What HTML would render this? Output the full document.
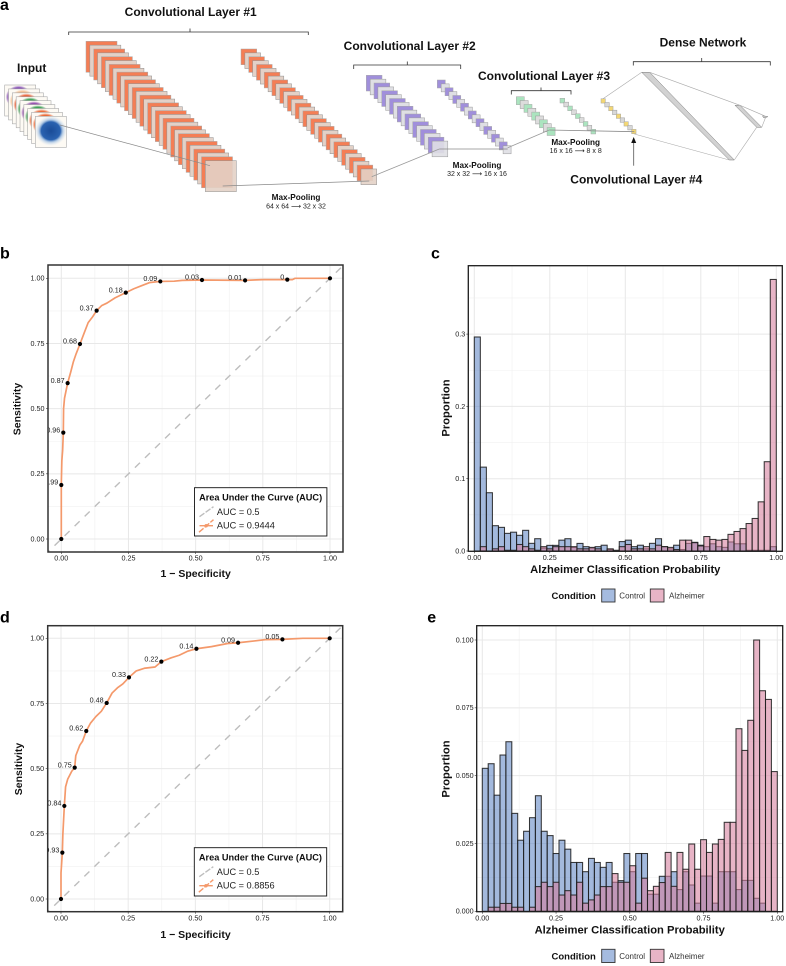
<!DOCTYPE html>
<html>
<head>
<meta charset="utf-8">
<title>CNN architecture and classification performance</title>
<style>
html,body{margin:0;padding:0;background:#fff;}
svg{display:block;font-family:"Liberation Sans",sans-serif;filter:blur(0.3px);}
.pl{font-size:16px;font-weight:bold;fill:#000;}
.h{font-size:12px;font-weight:bold;fill:#111;text-anchor:middle;}
.mp{font-size:8.2px;font-weight:bold;fill:#111;text-anchor:middle;}
.ms{font-size:7px;fill:#222;text-anchor:middle;font-family:"Liberation Sans","DejaVu Sans",sans-serif;}
.at{font-size:10.5px;font-weight:bold;fill:#111;text-anchor:middle;}
.ht{font-size:11.2px;font-weight:bold;fill:#111;text-anchor:middle;}
.lt{font-size:9.2px;font-weight:bold;fill:#111;}
.li{font-size:9.2px;fill:#222;}
.lc{font-size:9.5px;font-weight:bold;fill:#111;}
.lk{font-size:8px;fill:#333;}
.tk{font-size:7.2px;fill:#222;}
.rl{font-size:7.2px;fill:#222;text-anchor:end;}
</style>
</head>
<body>
<svg id="fig" width="786" height="966" viewBox="0 0 786 966" xmlns="http://www.w3.org/2000/svg">
<defs>
<clipPath id="clip-b"><rect x="48" y="265" width="295" height="287"/></clipPath>
<clipPath id="clip-d"><rect x="47.7" y="625.7" width="295" height="286"/></clipPath>
<clipPath id="clip-c"><rect x="468.3" y="265.7" width="314" height="285.6"/></clipPath>
<clipPath id="clip-e"><rect x="476.7" y="625.7" width="306" height="286"/></clipPath>
</defs>
<rect width="786" height="966" fill="#fff"/>

<text class="pl" x="0" y="10">a</text>
<text class="pl" x="0" y="258.3">b</text>
<text class="pl" x="431" y="258.3">c</text>
<text class="pl" x="0" y="622.5">d</text>
<text class="pl" x="427.3" y="622.3">e</text>

<g id="diagram"></g>
<g id="diagram-top" fill="none" stroke="#333">
<path d="M68.7 35V32H308.3V35M190 32V28.5" stroke-width="0.8"/>
<path d="M353.7 69V65H460.7V69M407.3 65V61.5" stroke-width="0.8"/>
<path d="M511.3 94.5V90.7H571V94.5M541 90.7V87.5" stroke-width="0.8"/>
<path d="M633.3 65.5V61.7H770.3V65.5M701.7 61.7V58" stroke-width="0.8"/>
<path d="M633.7 165.7V142" stroke="#555" stroke-width="0.8"/>
<path d="M633.7 137L636.2 143H631.2Z" fill="#111" stroke="none"/>
</g>
<text class="h" x="31.7" y="71.8">Input</text>
<text class="h" x="190.7" y="15.8">Convolutional Layer #1</text>
<text class="h" x="409.7" y="50.2">Convolutional Layer #2</text>
<text class="h" x="544" y="79.9">Convolutional Layer #3</text>
<text class="h" x="636.3" y="183.5">Convolutional Layer #4</text>
<text class="h" x="703" y="46.5">Dense Network</text>
<text class="mp" x="296" y="200.2">Max-Pooling</text>
<text class="ms" x="296" y="208.5">64 x 64 ⟶ 32 x 32</text>
<text class="mp" x="477" y="167.9">Max-Pooling</text>
<text class="ms" x="477" y="175.8">32 x 32 ⟶ 16 x 16</text>
<text class="mp" x="575.7" y="144.9">Max-Pooling</text>
<text class="ms" x="575.7" y="152.8">16 x 16 ⟶ 8 x 8</text>

<g id="charts"></g>

<text class="at" x="195.7" y="577">1 − Specificity</text>
<text class="at" transform="translate(20.5,409) rotate(-90)">Sensitivity</text>
<text class="at" x="195.5" y="938">1 − Specificity</text>
<text class="at" transform="translate(22,769) rotate(-90)">Sensitivity</text>

<text class="ht" x="625.3" y="573">Alzheimer Classification Probability</text>
<text class="ht" transform="translate(449.5,408) rotate(-90)">Proportion</text>
<text class="ht" x="629.7" y="933.6">Alzheimer Classification Probability</text>
<text class="ht" transform="translate(449.5,769) rotate(-90)">Proportion</text>

<g>
<text class="lc" x="551.5" y="599">Condition</text>
<rect x="601.7" y="589" width="13.3" height="13" fill="#a5bbdf" stroke="#333" stroke-width="0.9"/>
<text class="lk" x="619.3" y="598.5">Control</text>
<rect x="650.3" y="589" width="13.7" height="13" fill="#e8b4c6" stroke="#333" stroke-width="0.9"/>
<text class="lk" x="669" y="598.5">Alzheimer</text>
</g>
<g>
<text class="lc" x="551.5" y="959.3">Condition</text>
<rect x="601.7" y="949.3" width="13.3" height="13.2" fill="#a5bbdf" stroke="#333" stroke-width="0.9"/>
<text class="lk" x="619.3" y="958.8">Control</text>
<rect x="650.3" y="949.3" width="13.7" height="13.2" fill="#e8b4c6" stroke="#333" stroke-width="0.9"/>
<text class="lk" x="669" y="958.8">Alzheimer</text>
</g>

<script>
// ---------- ROC panel b ----------
const rocBFpr = [0,0,0.002,0.005,0.0075,0.0085,0.012,0.0236,0.035,0.045,0.055,0.0695,0.085,0.1,0.115,0.1315,0.15,0.17,0.2,0.24,0.27,0.3,0.33,0.3685,0.42,0.45,0.5236,0.684,0.75,0.841,0.86,0.87,1];
const rocBTpr = [0,0.21,0.3,0.34,0.41,0.5,0.54,0.598,0.64,0.68,0.71,0.748,0.79,0.83,0.85,0.876,0.895,0.905,0.925,0.945,0.96,0.972,0.984,0.988,0.989,0.992,0.9936,0.992,0.995,0.995,0.995,1,1];
const rocBMarkFpr = [0,0,0.0075,0.0236,0.0695,0.1315,0.24,0.3685,0.5236,0.684,0.841,1];
const rocBMarkTpr = [0,0.207,0.408,0.598,0.748,0.876,0.945,0.988,0.9936,0.992,0.995,1];
const rocBThresholds = ["","0.99","0.96","0.87","0.68","0.37","0.18","0.09","0.03","0.01","0",""];
// ---------- ROC panel d ----------
const rocDFpr = [0,0,0.005,0.007,0.0124,0.017,0.025,0.04,0.051,0.055,0.07,0.08,0.094,0.11,0.13,0.15,0.17,0.19,0.21,0.23,0.253,0.28,0.31,0.35,0.3735,0.41,0.44,0.47,0.504,0.56,0.62,0.659,0.72,0.76,0.824,0.9,1];
const rocDTpr = [0,0.1,0.178,0.25,0.357,0.43,0.46,0.49,0.504,0.55,0.59,0.605,0.6445,0.675,0.7,0.72,0.752,0.79,0.81,0.825,0.85,0.875,0.885,0.89,0.9105,0.925,0.935,0.95,0.96,0.968,0.98,0.983,0.99,0.995,0.996,1,1];
const rocDMarkFpr = [0,0.005,0.0124,0.051,0.094,0.17,0.253,0.3735,0.504,0.659,0.824,1];
const rocDMarkTpr = [0,0.178,0.357,0.504,0.6445,0.752,0.85,0.9105,0.96,0.983,0.996,1];
const rocDThresholds = ["","0.93","0.84","0.75","0.62","0.48","0.33","0.22","0.14","0.09","0.05",""];
const rocTicks = [0,0.25,0.5,0.75,1];
const rocTickLabels = ["0.00","0.25","0.50","0.75","1.00"];
const rocMinorTicks = [0.125,0.375,0.625,0.875];
// ---------- Histogram panel c ----------
const histCControl = [0.296,0.116,0.0806,0.035,0.0327,0.0244,0.026,0.0217,0.0286,0.0106,0.017,0.004,0.0078,0.0078,0.015,0.017,0.005,0.0105,0.006,0.004,0.006,0.008,0.002,0.001,0.013,0.015,0.006,0.008,0.003,0.0106,0.017,0.006,0.003,0.008,0.002,0.0105,0.012,0.008,0.006,0.01,0.006,0.005,0.0125,0.01,0.01,0.001,0.001,0.001,0.001,0.006];
const histCAlzheimer = [0,0.006,0,0.003,0.006,0.001,0.001,0.009,0.006,0.003,0.001,0.006,0.003,0.006,0.006,0.006,0.006,0.003,0.003,0.005,0.003,0,0.003,0,0.006,0.009,0.003,0.003,0.006,0.003,0.008,0.006,0.005,0.002,0.015,0.015,0.0115,0.007,0.02,0.016,0.015,0.016,0.023,0.027,0.031,0.038,0.045,0.068,0.1235,0.3756];
const histCTicksY = [0,0.1,0.2,0.3];
const histCTickLabelsY = ["0.0","0.1","0.2","0.3"];
const histCMinorY = [0.05,0.15,0.25,0.35];
// ---------- Histogram panel e ----------
const histEControl = [0.0527,0.0544,0.0428,0.0576,0.0625,0.0361,0.0262,0.0295,0.0345,0.0426,0.0295,0.0279,0.0213,0.0262,0.0229,0.018,0.018,0.0146,0.0195,0.018,0.0162,0.018,0.0107,0.0113,0.0213,0.0146,0.0213,0.0213,0.0063,0.0063,0.0129,0.0129,0.0146,0.008,0.0146,0.0097,0.003,0.013,0.013,0.003,0.0146,0.0146,0.0146,0.008,0.0114,0.0114,0.0048,0.003,0,0];
const histEAlzheimer = [0,0.0015,0.0015,0.0029,0.0029,0.0015,0.0015,0,0.0015,0.0091,0.0107,0.0091,0.0107,0.006,0.0076,0.006,0.0107,0.003,0.0042,0.006,0.0091,0.0091,0.0139,0.0107,0.0107,0.0168,0.003,0.0122,0.0076,0.0092,0.0106,0.0217,0.0092,0.0217,0.0155,0.0248,0.0155,0.0264,0.0217,0.0248,0.0265,0.0328,0.0328,0.0673,0.0593,0.0704,0.1,0.0813,0.0781,0.0515];
const histETicksY = [0,0.025,0.05,0.075,0.1];
const histETickLabelsY = ["0.000","0.025","0.050","0.075","0.100"];
const histEMinorY = [0.0125,0.0375,0.0625,0.0875];

const NS = 'http://www.w3.org/2000/svg';
function mk(parent, tag, attrs, text) {
  const n = document.createElementNS(NS, tag);
  for (const k in attrs) n.setAttribute(k, attrs[k]);
  if (text !== undefined) n.textContent = text;
  parent.appendChild(n);
  return n;
}
const charts = document.getElementById('charts');

function gridAndTicks(g, prefix, px, py, sx, sy, xT, xL, yT, yL, xM, yM, labelY, labelX) {
  xM.forEach(v => {
    const el = mk(g, 'line', {x1:sx(v), x2:sx(v), y1:py.top, y2:py.bottom, stroke:'#f0f0f0', 'stroke-width':0.6});
    
    
  });
  yM.forEach(v => {
    const el = mk(g, 'line', {x1:px.left, x2:px.right, y1:sy(v), y2:sy(v), stroke:'#f0f0f0', 'stroke-width':0.6});
    
    
  });
  xT.forEach((v, i) => {
    const el = mk(g, 'line', {x1:sx(v), x2:sx(v), y1:py.top, y2:py.bottom, stroke:'#e8e8e8', 'stroke-width':1});
    
    
    const t = mk(g, 'line', {x1:sx(v), x2:sx(v), y1:py.bottom, y2:py.bottom + 2, stroke:'#333', 'stroke-width':0.6});
    
    
    const lab = mk(g, 'text', {x:sx(v), y:labelY, 'text-anchor':'middle', class:'tk'}, xL[i]);
    
    
  });
  yT.forEach((v, i) => {
    const el = mk(g, 'line', {x1:px.left, x2:px.right, y1:sy(v), y2:sy(v), stroke:'#e8e8e8', 'stroke-width':1});
    
    
    const t = mk(g, 'line', {x1:px.left - 2, x2:px.left, y1:sy(v), y2:sy(v), stroke:'#333', 'stroke-width':0.6});
    
    
    const lab = mk(g, 'text', {x:labelX, y:sy(v) + 2.4, 'text-anchor':'end', class:'tk'}, yL[i]);
    
    
  });
}

function drawRoc(o) {
  const g = mk(charts, 'g', {});
  
  
  const sx = v => o.x0 + v * (o.x1 - o.x0);
  const sy = v => o.y0 + v * (o.y1 - o.y0);
  const px = {left:o.left, right:o.right}, py = {top:o.top, bottom:o.bottom};
  gridAndTicks(g, o.id, px, py, sx, sy, rocTicks, rocTickLabels, rocTicks, rocTickLabels, rocMinorTicks, rocMinorTicks, o.bottom + 8.6, o.left - 3.5);
  const c = mk(g, 'g', {'clip-path':'url(#' + o.clip + ')'});
  
  
  const diag = mk(c, 'line', {x1:sx(-0.1), y1:sy(-0.1), x2:sx(1.1), y2:sy(1.1), stroke:'#bdbdbd', 'stroke-width':1.4, 'stroke-dasharray':'7 7'});
  
  
  const pts = o.fpr.map((v, i) => sx(v).toFixed(2) + ',' + sy(o.tpr[i]).toFixed(2)).join(' ');
  const line = mk(c, 'polyline', {points:pts, fill:'none', stroke:'#f4996b', 'stroke-width':1.7, 'stroke-linejoin':'round'});
  
  
  o.mFpr.forEach((v, i) => {
    const m = mk(c, 'circle', {cx:sx(v), cy:sy(o.mTpr[i]), r:2.1, fill:'#000'});
    
    
    if (o.labels[i]) {
      const t = mk(c, 'text', {x:sx(v) - 3, y:sy(o.mTpr[i]) - 0.3, class:'rl'}, o.labels[i]);
      
      
    }
  });
  const frame = mk(g, 'rect', {x:o.left, y:o.top, width:o.right - o.left, height:o.bottom - o.top, fill:'none', stroke:'#333', 'stroke-width':1.5});
  
  
  // legend
  const lg = mk(g, 'g', {});
  
  
  const lx = o.legendX, ly = o.legendY;
  const box = mk(lg, 'rect', {x:lx, y:ly, width:132.4, height:48.3, fill:'#fff', stroke:'#111', 'stroke-width':0.9});
  
  
  const lt = mk(lg, 'text', {x:lx + 4.6, y:ly + 12.6, class:'lt'}, 'Area Under the Curve (AUC)');
  
  
  const k1 = mk(lg, 'line', {x1:lx + 5, y1:ly + 29, x2:lx + 19, y2:ly + 19, stroke:'#bdbdbd', 'stroke-width':1.4, 'stroke-dasharray':'6 1.5'});
  
  
  const l1 = mk(lg, 'text', {x:lx + 22.4, y:ly + 27.5, class:'li'}, 'AUC = 0.5');
  
  
  const k2 = mk(lg, 'line', {x1:lx + 4.5, y1:ly + 44.5, x2:lx + 19, y2:ly + 32, stroke:'#f4996b', 'stroke-width':1.4, 'stroke-dasharray':'6 1.5'});
  
  
  const k3 = mk(lg, 'line', {x1:lx + 5, y1:ly + 38, x2:lx + 18.5, y2:ly + 38, stroke:'#f4996b', 'stroke-width':1.4});
  
  
  const k4 = mk(lg, 'circle', {cx:lx + 11.7, cy:ly + 38, r:1.7, fill:'#f4996b'});
  
  
  const l2 = mk(lg, 'text', {x:lx + 22.4, y:ly + 40.8, class:'li'}, o.aucLabel);
  
  
}

function drawHist(o) {
  const g = mk(charts, 'g', {});
  
  
  const sx = v => o.x0 + v * (o.x1 - o.x0);
  const sy = v => o.y0 - v * o.yScale;
  const px = {left:o.left, right:o.right}, py = {top:o.top, bottom:o.bottom};
  gridAndTicks(g, o.id, px, py, sx, sy, rocTicks, rocTickLabels, o.yTicks, o.yLabels, rocMinorTicks, o.yMinor, o.bottom + 8.8, o.left - 3);
  const c = mk(g, 'g', {'clip-path':'url(#' + o.clip + ')'});
  
  
  const n = o.control.length;
  const drawSeries = (vals, fill, name) => {
    vals.forEach((v, i) => {
      const xa = sx(i / n), xb = sx((i + 1) / n);
      const r = mk(c, 'rect', {x:xa, y:sy(v), width:xb - xa, height:Math.max(0, o.y0 - sy(v)), fill:fill, stroke:'#1c1c1c', 'stroke-width':1.05, 'stroke-opacity':0.88});
      
      
    });
  };
  drawSeries(o.control, 'rgba(96,134,197,0.58)', o.id + '-bar-control');
  drawSeries(o.alzheimer, 'rgba(214,125,156,0.58)', o.id + '-bar-alzheimer');
  const frame = mk(g, 'rect', {x:o.left, y:o.top, width:o.right - o.left, height:o.bottom - o.top, fill:'none', stroke:'#1c1c1c', 'stroke-width':1.3});
  
  
}

drawRoc({id:'roc-b', clip:'clip-b', left:48, right:343, top:265, bottom:552, x0:61.3, x1:330, y0:539, y1:278.3,
  fpr:rocBFpr, tpr:rocBTpr, mFpr:rocBMarkFpr, mTpr:rocBMarkTpr, labels:rocBThresholds, legendX:194.5, legendY:487.7, aucLabel:'AUC = 0.9444'});
drawRoc({id:'roc-d', clip:'clip-d', left:47.7, right:342.7, top:625.7, bottom:911.7, x0:61, x1:329.7, y0:899, y1:638.3,
  fpr:rocDFpr, tpr:rocDTpr, mFpr:rocDMarkFpr, mTpr:rocDMarkTpr, labels:rocDThresholds, legendX:194.3, legendY:847.7, aucLabel:'AUC = 0.8856'});
drawHist({id:'hist-c', clip:'clip-c', left:468.3, right:782.3, top:265.7, bottom:551.3, x0:474.3, x1:776.3, y0:551, yScale:723,
  control:histCControl, alzheimer:histCAlzheimer, yTicks:histCTicksY, yLabels:histCTickLabelsY, yMinor:histCMinorY});
drawHist({id:'hist-e', clip:'clip-e', left:476.7, right:782.7, top:625.7, bottom:911.7, x0:482.3, x1:777.3, y0:911.3, yScale:2713,
  control:histEControl, alzheimer:histEAlzheimer, yTicks:histETicksY, yLabels:histETickLabelsY, yMinor:histEMinorY});

// ---------- Network diagram ----------
const diagram = document.getElementById('diagram');
const defs = document.querySelector('defs');
const inputColors = ['#7a3fb0','#f2b98a','#e8542a','#2f9a4a','#8a3fa8','#2f9a4a','#e8622e','#e8622e'];
inputColors.forEach((col, i) => {
  const rg = mk(defs, 'radialGradient', {id:'blob' + i});
  mk(rg, 'stop', {offset:'0%', 'stop-color':col, 'stop-opacity':1});
  mk(rg, 'stop', {offset:'80%', 'stop-color':col, 'stop-opacity':0.95});
  mk(rg, 'stop', {offset:'100%', 'stop-color':col, 'stop-opacity':0});
});
const blueGrad = mk(defs, 'radialGradient', {id:'blob-blue'});
mk(blueGrad, 'stop', {offset:'0%', 'stop-color':'#1a4c98', 'stop-opacity':1});
mk(blueGrad, 'stop', {offset:'60%', 'stop-color':'#2a62b0', 'stop-opacity':1});
mk(blueGrad, 'stop', {offset:'76%', 'stop-color':'#8fb4de', 'stop-opacity':0.6});
mk(blueGrad, 'stop', {offset:'100%', 'stop-color':'#cfe0f2', 'stop-opacity':0});

for (let i = 0; i < 9; i++) {
  const x = 4.7 + i * 3.83, y = 85 + i * 3.92;
  const r = mk(diagram, 'rect', {x:x, y:y, width:31, height:31, fill:'#fdfaf4', stroke:'#aaa', 'stroke-width':0.6});
  
  
  const b = i === 8
    ? mk(diagram, 'ellipse', {cx:x + 15.5, cy:y + 14.5, rx:16, ry:15, fill:'url(#blob-blue)'})
    : mk(diagram, 'ellipse', {cx:x + 14, cy:y + 12, rx:13, ry:11.5, fill:'url(#blob' + i + ')'});
  
  
}

function stack(name, x, y, size, step, count, col, grey, stroke) {
  for (let i = 0; i < count; i++) {
    const isLast = i === count - 1;
    const r = mk(diagram, 'rect', {x:x + i * step, y:y + i * step, width:size, height:size, fill:i % 2 === 0 ? col : grey, stroke:i % 2 === 0 ? '#a8a8a8' : stroke, 'stroke-width':0.5, 'fill-opacity':isLast && i % 2 ? 0.9 : 1});
    
    
  }
}
stack('conv-1a', 86, 41.3, 31, 3.85, 32, '#f47e55', '#e3d1c7', '#8f8f8f');
stack('conv-1b', 241, 49, 15.7, 3.87, 32, '#f47e55', '#e3d1c7', '#8f8f8f');
stack('conv-2a', 366.3, 75.3, 15.7, 3.87, 18, '#a08fdb', '#dfdfe4', '#999');
stack('conv-2b', 437.3, 80, 8, 3.87, 18, '#a08fdb', '#dfdfe4', '#999');
stack('conv-3a', 516.3, 96.7, 8, 3.85, 9, '#abe4bf', '#dcdcdc', '#999');
stack('conv-3b', 560, 98.3, 4.7, 3.87, 9, '#abe4bf', '#dcdcdc', '#999');
stack('conv-4', 601, 98.7, 4.4, 3.83, 9, '#f3d774', '#d8d8d8', '#999');

function poly(name, pts) {
  const p = mk(diagram, 'polygon', {points:pts, fill:'#d2d2d2', stroke:'#777', 'stroke-width':0.5});
  
  
}
poly('dense-layer-1', '641.7,72.3 649.7,72.3 734.3,160 729.3,160');
poly('dense-layer-2', '735,105.3 740,105.3 761.7,127.3 756.7,127.3');
poly('dense-layer-3', '762.7,115.7 768,116.7 764,118 763,117');

function link(name, x1, y1, x2, y2, col, w) {
  const l = mk(diagram, 'line', {x1:x1, y1:y1, x2:x2, y2:y2, stroke:col, 'stroke-width':w});
  
  
}
link('link-input-conv-1', 60, 125, 210, 165.7, '#8a8a8a', 0.7);
link('link-pool-1', 222.7, 186, 369.3, 181, '#8a8a8a', 0.8);
link('link-conv-1-conv-2', 371.7, 176.7, 439.3, 149, '#9a9a9a', 0.8);
link('link-pool-2', 439.3, 149, 507.7, 149, '#8a8a8a', 0.8);
link('link-conv-2-conv-3', 507.7, 147.7, 549.3, 130, '#9a9a9a', 0.8);
link('link-pool-3', 549.3, 130, 634.3, 131.7, '#8a8a8a', 0.8);
link('link-dense-a', 603, 98.7, 641.7, 72.3, '#aaa', 0.6);
link('link-dense-b', 634.3, 134, 729.3, 160, '#aaa', 0.6);
link('link-dense-c', 649.7, 72.3, 740, 105.3, '#aaa', 0.6);
link('link-dense-d', 734.3, 160, 756.7, 127.3, '#aaa', 0.6);
link('link-dense-e', 740, 105.3, 766, 116.5, '#aaa', 0.6);
link('link-dense-f', 761.7, 127.3, 766, 116.5, '#aaa', 0.6);
</script>
</svg>
</body>
</html>
